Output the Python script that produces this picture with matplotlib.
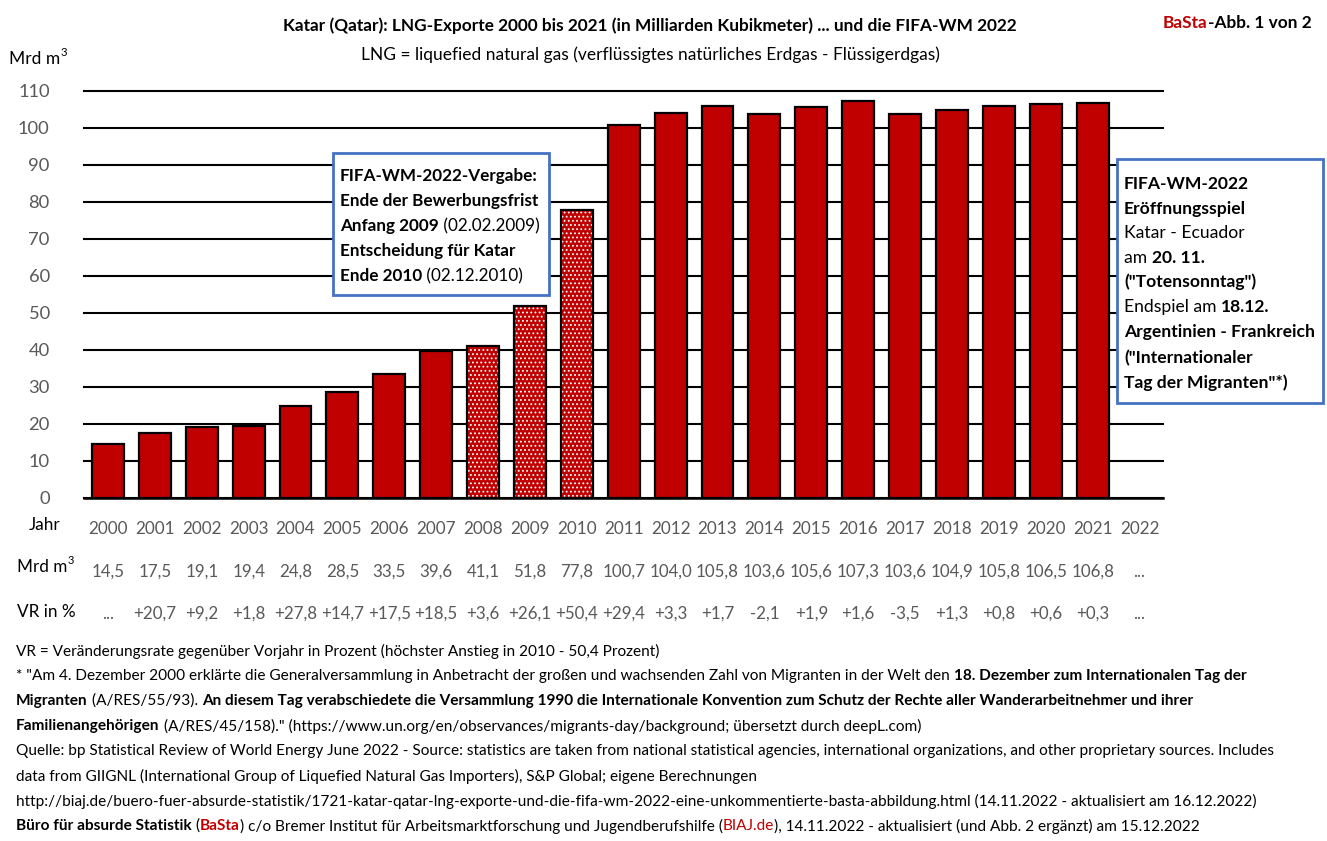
import matplotlib
matplotlib.use('Agg')
import matplotlib.pyplot as plt
from matplotlib.patches import Rectangle

plt.rcParams['font.family'] = ['Lato', 'DejaVu Sans']
plt.rcParams['hatch.linewidth'] = 0.8

W, H = 1327, 841
RED = '#C00000'
GREY = '#595959'
BLUE = '#4472C4'

years = list(range(2000, 2023))
values = [14.5, 17.5, 19.1, 19.4, 24.8, 28.5, 33.5, 39.6, 41.1, 51.8, 77.8, 100.7,
          104.0, 105.8, 103.6, 105.6, 107.3, 103.6, 104.9, 105.8, 106.5, 106.8]
dotted_years = [2008, 2009, 2010]
vr_labels = ['...', '+20,7', '+9,2', '+1,8', '+27,8', '+14,7', '+17,5', '+18,5', '+3,6', '+26,1',
             '+50,4', '+29,4', '+3,3', '+1,7', '-2,1', '+1,9', '+1,6', '-3,5', '+1,3', '+0,8',
             '+0,6', '+0,3', '...']
value_labels = [f'{v:.1f}'.replace('.', ',') for v in values] + ['...']
y_ticks = list(range(0, 111, 10))

# (text, bold, colour) runs per line
box1_lines = [
    [('FIFA-WM-2022-Vergabe:', True, 'k')],
    [('Ende der Bewerbungsfrist', True, 'k')],
    [('Anfang 2009', True, 'k'), (' (02.02.2009)', False, 'k')],
    [('Entscheidung für Katar', True, 'k')],
    [('Ende 2010', True, 'k'), (' (02.12.2010)', False, 'k')],
]
box2_lines = [
    [('FIFA-WM-2022', True, 'k')],
    [('Eröffnungsspiel', True, 'k')],
    [('Katar - Ecuador', False, 'k')],
    [('am ', False, 'k'), ('20. 11.', True, 'k')],
    [('("Totensonntag")', True, 'k')],
    [('Endspiel am ', False, 'k'), ('18.12.', True, 'k')],
    [('Argentinien - Frankreich', True, 'k')],
    [('("Internationaler', True, 'k')],
    [('Tag der Migranten"*)', True, 'k')],
]
footer_lines = [
    [('VR = Veränderungsrate gegenüber Vorjahr in Prozent (höchster Anstieg in 2010 - 50,4 Prozent)', False, 'k')],
    [('* "Am 4. Dezember 2000 erklärte die Generalversammlung in Anbetracht der großen und wachsenden Zahl von Migranten in der Welt den ', False, 'k'),
     ('18. Dezember zum Internationalen Tag der', True, 'k')],
    [('Migranten', True, 'k'), (' (A/RES/55/93). ', False, 'k'),
     ('An diesem Tag verabschiedete die Versammlung 1990 die Internationale Konvention zum Schutz der Rechte aller Wanderarbeitnehmer und ihrer', True, 'k')],
    [('Familienangehörigen', True, 'k'),
     (' (A/RES/45/158)." (https://www.un.org/en/observances/migrants-day/background; übersetzt durch deepL.com)', False, 'k')],
    [('Quelle: bp Statistical Review of World Energy June 2022 - Source: statistics are taken from national statistical agencies, international organizations, and other proprietary sources. Includes', False, 'k')],
    [('data from GIIGNL (International Group of Liquefied Natural Gas Importers), S&P Global; eigene Berechnungen', False, 'k')],
    [('http://biaj.de/buero-fuer-absurde-statistik/1721-katar-qatar-lng-exporte-und-die-fifa-wm-2022-eine-unkommentierte-basta-abbildung.html (14.11.2022 - aktualisiert am 16.12.2022)', False, 'k')],
    [('Büro für absurde Statistik', True, 'k'), (' (', False, 'k'), ('BaSta', True, RED),
     (') c/o Bremer Institut für Arbeitsmarktforschung und Jugendberufshilfe (', False, 'k'), ('BIAJ.de', False, RED),
     ('), 14.11.2022 - aktualisiert (und Abb. 2 ergänzt) am 15.12.2022', False, 'k')],
]
footer_y = [650, 675, 700, 725, 750, 775, 800, 825]

fig = plt.figure(figsize=(W / 100, H / 100), dpi=100, facecolor='white')
renderer = fig.canvas.get_renderer()
AX_TOP, AX_BOTTOM = 90.7, 497.6
ax = fig.add_axes([84.5 / W, 1 - AX_BOTTOM / H, (1163 - 84.5) / W, (AX_BOTTOM - AX_TOP) / H])


def text_width(s, size, bold):
    # the bar keeps trailing blanks in the measurement
    w = 'bold' if bold else 'normal'
    a = fig.text(0, 0, s + '|', fontsize=size, fontweight=w)
    b = fig.text(0, 0, '|', fontsize=size, fontweight=w)
    res = a.get_window_extent(renderer).width - b.get_window_extent(renderer).width
    a.remove()
    b.remove()
    return res


def rich_line(x, y, runs, size):
    for s, bold, col in runs:
        fig.text(x / W, 1 - y / H, s, fontsize=size, color=col, va='center', ha='left',
                 fontweight='bold' if bold else 'normal', zorder=12)
        x += text_width(s, size, bold)


def mrd_label(x, y, size):
    # Lato's superscript glyph is tiny, so the 3 is set by hand
    rich_line(x, y, [('Mrd m', False, 'k')], size)
    fig.text((x + text_width('Mrd m', size, False)) / W, 1 - (y - 6) / H, '3',
             fontsize=size * 0.65, va='center', ha='left', zorder=12)


def box(x0, y0, x1, y1):
    fig.add_artist(Rectangle((x0 / W, 1 - y1 / H), (x1 - x0) / W, (y1 - y0) / H,
                             transform=fig.transFigure, facecolor='white', edgecolor=BLUE,
                             linewidth=2.0, zorder=10))


# bars
for yr, v in zip(years, values):
    if yr in dotted_years:
        ax.bar(yr, v, width=0.68, color=RED, edgecolor='white', hatch='....', linewidth=0, zorder=3)
        ax.bar(yr, v, width=0.68, facecolor='none', edgecolor='k', linewidth=1.6, zorder=4)
    else:
        ax.bar(yr, v, width=0.68, color=RED, edgecolor='k', linewidth=1.6, zorder=3)

ax.set_xlim(1999.5, 2022.5)
ax.set_ylim(0, 110)
ax.set_yticks(y_ticks)
ax.set_xticks(years)
ax.tick_params(axis='both', length=0, labelcolor=GREY)
ax.tick_params(axis='y', labelsize=13.2, pad=25)
ax.tick_params(axis='x', labelsize=12.3, pad=17)
ax.grid(axis='y', color='k', linewidth=1.5, zorder=1)
for gl in ax.get_ygridlines():
    gl.set_clip_on(False)
ax.set_axisbelow(True)
for side in ['top', 'right', 'left']:
    ax.spines[side].set_visible(False)
ax.spines['bottom'].set_linewidth(1.8)
ax.spines['bottom'].set_zorder(5)
ax.patch.set_alpha(0)

# table rows under the axis
row_tr = ax.get_xaxis_transform()
row_h = AX_BOTTOM - AX_TOP
for yr, v_lab, vr_lab in zip(years, value_labels, vr_labels):
    ax.text(yr, -(572 - AX_BOTTOM) / row_h, v_lab, transform=row_tr, ha='center', va='center',
            fontsize=12.2, color=GREY, clip_on=False)
    ax.text(yr, -(614 - AX_BOTTOM) / row_h, vr_lab, transform=row_tr, ha='center', va='center',
            fontsize=12.2, color=GREY, clip_on=False)

# titles and row headers
fig.text(650 / W, 1 - 26 / H, 'Katar (Qatar): LNG-Exporte 2000 bis 2021 (in Milliarden Kubikmeter) ... und die FIFA-WM 2022',
         ha='center', va='center', fontsize=12.45, fontweight='bold')
fig.text(650 / W, 1 - 55 / H, 'LNG = liquefied natural gas (verflüssigtes natürliches Erdgas - Flüssigerdgas)',
         ha='center', va='center', fontsize=12.5)
rich_line(1163, 23, [('BaSta', True, RED), ('-Abb. 1 von 2', True, 'k')], 12.4)
mrd_label(9, 59, 12.5)
rich_line(29, 525, [('Jahr', False, 'k')], 12.3)
mrd_label(17, 567, 12.3)
rich_line(17, 612, [('VR in %', False, 'k')], 12.3)

# annotation boxes
box(333, 153, 549, 295)
for y, runs in zip([176, 201, 226, 251, 276], box1_lines):
    rich_line(340, y, runs, 12.35)
box(1117, 159, 1323, 403)
for y, runs in zip([184, 209, 233, 258, 282, 307, 332, 358, 383], box2_lines):
    rich_line(1124, y, runs, 12.6)

# footer
for y, runs in zip(footer_y, footer_lines):
    rich_line(16, y + 1, runs, 11.05)

fig.savefig('out.png', dpi=100, facecolor='white')
